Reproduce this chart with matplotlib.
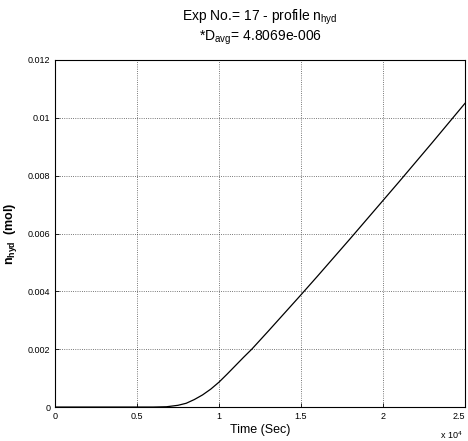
import numpy as np
import matplotlib.pyplot as plt

plt.rcParams['font.family'] = ['Liberation Sans', 'DejaVu Sans']
plt.rcParams['mathtext.default'] = 'regular'

# time in units of 1e4 s, amount in mol
time_1e4 = [0.0, 0.2, 0.4, 0.6, 0.68, 0.75, 0.8, 0.85, 0.9, 0.95, 1.0, 1.05, 1.1, 1.15,
            1.2, 1.3, 1.4, 1.5, 1.6, 1.7, 1.8, 1.9, 2.0, 2.1, 2.2, 2.3, 2.4, 2.5]
n_hyd = [0.0, 0.0, 0.0, 0.0, 0.00001, 0.00006, 0.00013, 0.00026, 0.00042, 0.00062,
         0.00086, 0.00114, 0.00143, 0.00172, 0.0020, 0.00262, 0.00325, 0.00388,
         0.00452, 0.00517, 0.00582, 0.00648, 0.00714, 0.0078, 0.00847, 0.00914,
         0.00982, 0.0105]

xticks = [0, 0.5, 1, 1.5, 2, 2.5]
xtick_labels = ['0', '0.5', '1', '1.5', '2', '2.5']
yticks = [0, 0.002, 0.004, 0.006, 0.008, 0.01, 0.012]
ytick_labels = ['0', '0.002', '0.004', '0.006', '0.008', '0.01', '0.012']

fig = plt.figure(figsize=(4.68, 4.41), dpi=100)
ax = fig.add_axes([0.1175, 0.077, 0.876, 0.787])

ax.plot(time_1e4, n_hyd, color='black', linewidth=0.9)

ax.set_xlim(0, 2.5)
ax.set_ylim(0, 0.012)
ax.set_xticks(xticks)
ax.set_xticklabels(xtick_labels)
ax.set_yticks(yticks)
ax.set_yticklabels(ytick_labels)
ax.tick_params(direction='in', length=3, labelsize=6.5, width=0.6, colors='black')
# last label sits on the figure edge, keep it inside
ax.get_xticklabels()[-1].set_horizontalalignment('right')
ax.grid(True, linestyle=':', color='black', linewidth=0.6, alpha=0.7)
for s in ax.spines.values():
    s.set_linewidth(0.8)

ax.set_title('Exp No.= 17 - profile n$_{hyd}$\n*D$_{avg}$= 4.8069e-006',
             fontsize=10, pad=14, linespacing=1.15)
ax.set_xlabel('Time (Sec)', fontsize=9, labelpad=2)
ax.set_ylabel('n$_{hyd}$  (mol)', fontsize=9, fontweight='bold', labelpad=6)
ax.text(0.995, -0.065, r'x 10$^4$', transform=ax.transAxes, ha='right', va='top',
        fontsize=6.5)

fig.savefig('out.png', dpi=100)
